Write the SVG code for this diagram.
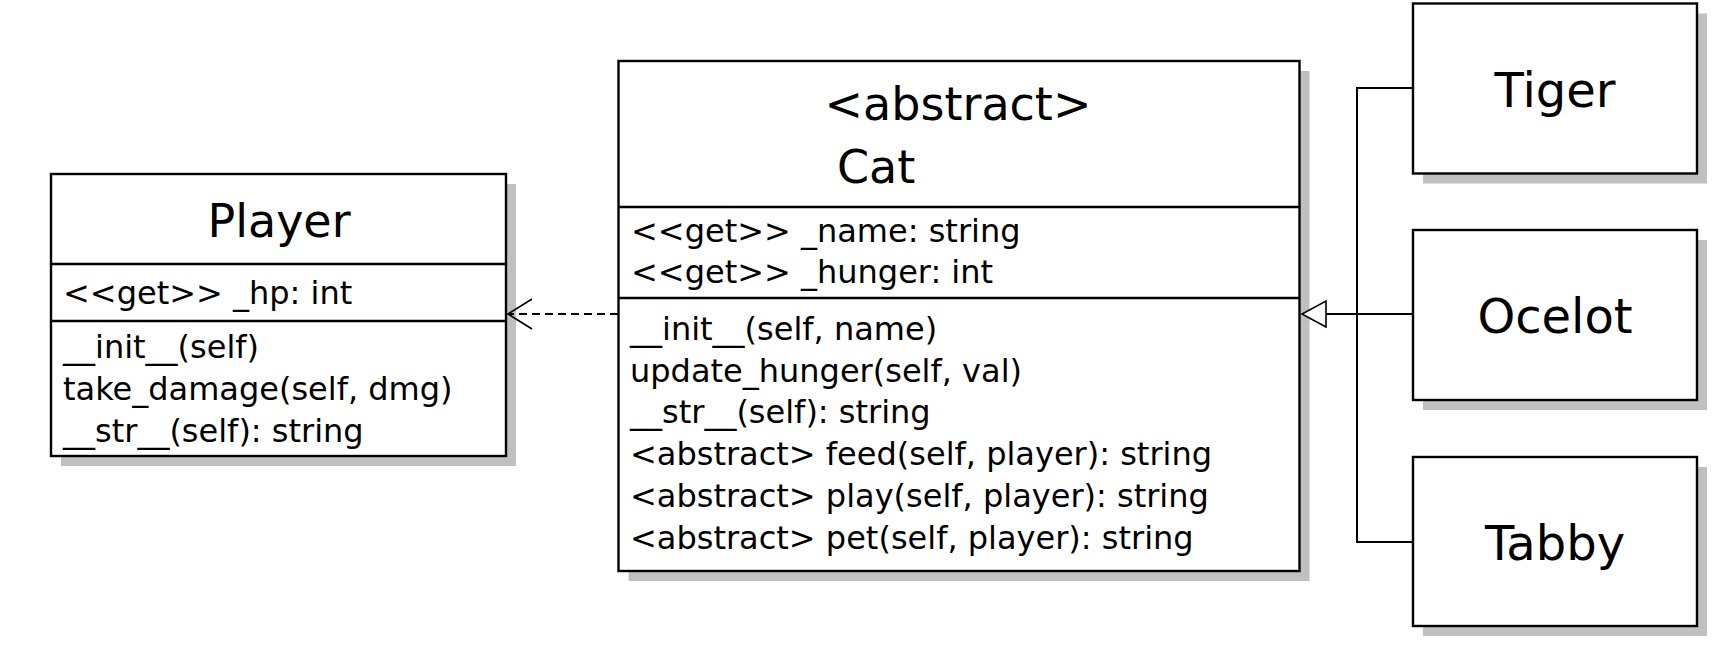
<svg xmlns="http://www.w3.org/2000/svg" width="1718" height="648" viewBox="0 0 1718 648">
<style>
.box{fill:#fff;stroke:#000;stroke-width:2.4}
.shadow{fill:#c0c0c0}
.div{stroke:#000;stroke-width:2.4}
.name{font-family:"DejaVu Sans",sans-serif;font-size:46px;fill:#000}
.sub{font-family:"DejaVu Sans",sans-serif;font-size:48px;fill:#000;text-anchor:middle}
.mem{font-family:"DejaVu Sans",sans-serif;font-size:32px;fill:#000}
.conn{fill:none;stroke:#000;stroke-width:2}
.dash{stroke-dasharray:8 5}
</style>
<defs>
<marker id="open" markerUnits="userSpaceOnUse" markerWidth="30" markerHeight="34" refX="24" refY="15" orient="auto" overflow="visible">
<path d="M0,0 L24,15 L0,30" fill="none" stroke="#000" stroke-width="1.6"/>
</marker>
<marker id="tri" markerUnits="userSpaceOnUse" markerWidth="30" markerHeight="30" refX="24" refY="13" orient="auto" overflow="visible">
<path d="M0,0 L24,13 L0,26 Z" fill="#fff" stroke="#000" stroke-width="1.6"/>
</marker>
</defs>
<g id="player">
<rect class="shadow" x="61" y="184" width="455" height="282"/>
<rect class="box" x="51" y="174" width="455" height="282"/>
<line class="div" x1="51" y1="264" x2="506" y2="264"/>
<line class="div" x1="51" y1="321" x2="506" y2="321"/>
<text class="name" x="279" y="237" text-anchor="middle">Player</text>
<text class="mem" x="63" y="304">&lt;&lt;get&gt;&gt; _hp: int</text>
<text class="mem" x="63" y="358">__init__(self)</text>
<text class="mem" x="63" y="400">take_damage(self, dmg)</text>
<text class="mem" x="63" y="442">__str__(self): string</text>
</g>
<g id="cat">
<rect class="shadow" x="628.5" y="71" width="681" height="510"/>
<rect class="box" x="618.5" y="61" width="681" height="510"/>
<line class="div" x1="618.5" y1="207" x2="1299.5" y2="207"/>
<line class="div" x1="618.5" y1="298" x2="1299.5" y2="298"/>
<text class="name" x="958" y="120" text-anchor="middle">&lt;abstract&gt;</text>
<text class="name" x="837" y="183">Cat</text>
<text class="mem" x="631" y="242">&lt;&lt;get&gt;&gt; _name: string</text>
<text class="mem" x="631" y="283">&lt;&lt;get&gt;&gt; _hunger: int</text>
<text class="mem" x="630" y="340">__init__(self, name)</text>
<text class="mem" x="630" y="382">update_hunger(self, val)</text>
<text class="mem" x="630" y="423">__str__(self): string</text>
<text class="mem" x="630" y="465">&lt;abstract&gt; feed(self, player): string</text>
<text class="mem" x="630" y="507">&lt;abstract&gt; play(self, player): string</text>
<text class="mem" x="630" y="549">&lt;abstract&gt; pet(self, player): string</text>
</g>
<g id="tiger">
<rect class="shadow" x="1423" y="13.5" width="284" height="170"/>
<rect class="box" x="1413" y="3.5" width="284" height="170"/>
<text class="sub" x="1555" y="107">Tiger</text>
</g>
<g id="ocelot">
<rect class="shadow" x="1423" y="240" width="284" height="170"/>
<rect class="box" x="1413" y="230" width="284" height="170"/>
<text class="sub" x="1555" y="333">Ocelot</text>
</g>
<g id="tabby">
<rect class="shadow" x="1423" y="467" width="284" height="169"/>
<rect class="box" x="1413" y="457" width="284" height="169"/>
<text class="sub" x="1555" y="560">Tabby</text>
</g>
<g id="connectors">
<path class="conn dash" d="M618,314 H508" marker-end="url(#open)"/>
<path class="conn" d="M1413,88 H1357 V542 H1413"/>
<path class="conn" d="M1413,314 H1302" marker-end="url(#tri)"/>
</g>
</svg>
